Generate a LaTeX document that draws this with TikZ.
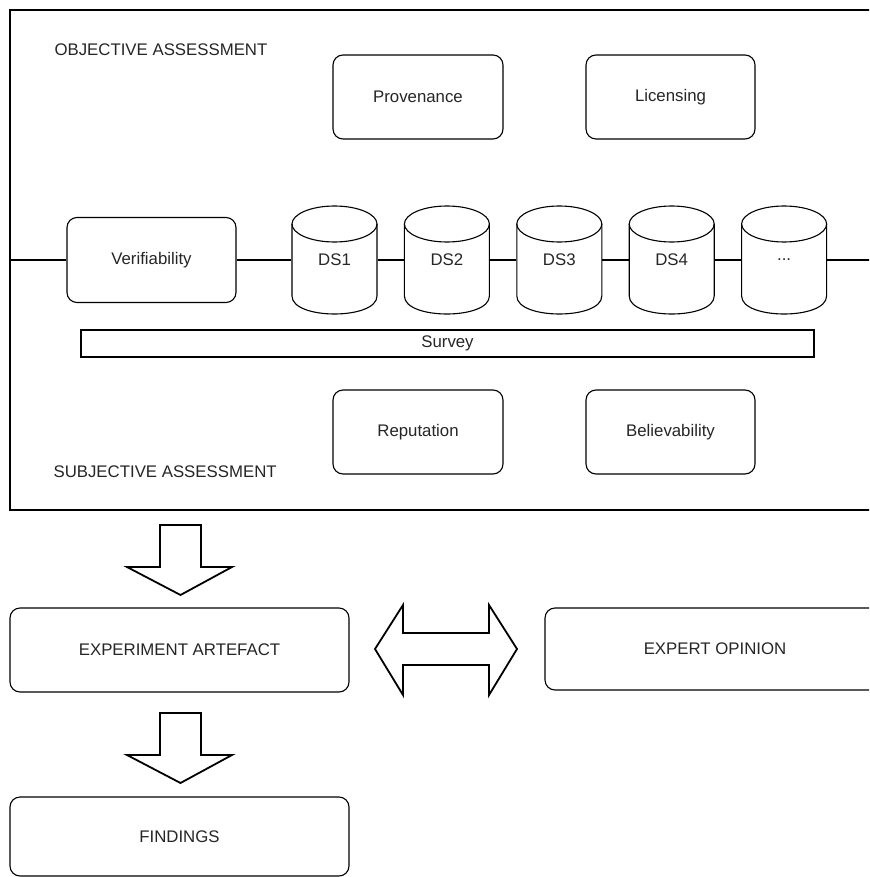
\documentclass[tikz,border=0pt]{standalone}
\usepackage{fontspec}
\setmainfont{Liberation Sans}
\newcommand\cylshape[2]{%
  \draw[fill=white] (#1,#2-36) ellipse [x radius=42.5, y radius=18];
  \draw (#1-42.5,#2-36) -- (#1-42.5,#2+36) .. controls (#1-42.5,#2+60) and (#1+42.5,#2+60) .. (#1+42.5,#2+36) -- (#1+42.5,#2-36);
}
\begin{document}
\begin{tikzpicture}[x=1pt,y=-1pt, line width=1.1pt,
  txt/.style={font=\fontsize{16.8}{20}\selectfont, text=black!85},
  rbox/.style={txt, draw, rounded corners=10pt, inner sep=0pt},
  lbl/.style={txt, anchor=west, inner sep=0pt},
  cylnode/.style={txt, inner sep=0pt, minimum width=85pt, minimum height=108pt},
  blockarrow/.style={draw, line width=1.8pt, fill=white, line join=miter}]
\useasboundingbox (0,0) rectangle (869,877);
\clip (0,0) rectangle (869,877);
\fill[white] (0,0) rectangle (869,877);
% outer frame (open on the right)
\draw (880,10) -- (10,10) -- (10,510) -- (880,510);
\node[lbl] (obj) at (54,50) {OBJECTIVE ASSESSMENT};
\node[lbl] (subj) at (53,472) {SUBJECTIVE ASSESSMENT};
% top boxes
\node[rbox, minimum width=170pt, minimum height=84pt] (prov) at (418,97) {Provenance};
\node[rbox, minimum width=169pt, minimum height=84pt] (lic) at (670.5,97) {Licensing};
% middle row
\node[rbox, minimum width=169pt, minimum height=85pt] (verif) at (151.5,260) {Verifiability};
\cylshape{334.5}{260}
\cylshape{446.9}{260}
\cylshape{559.3}{260}
\cylshape{671.7}{260}
\cylshape{784.1}{260}
\node[cylnode] (ds1) at (334.5,260) {DS1};
\node[cylnode] (ds2) at (446.9,260) {DS2};
\node[cylnode] (ds3) at (559.3,260) {DS3};
\node[cylnode] (ds4) at (671.7,260) {DS4};
\node[cylnode] (ds5) at (784.1,260) {...};
\coordinate (lft) at (10,260);
\coordinate (rgt) at (880,260);
\draw (lft) -- (verif.west);
\draw (verif.east) -- (ds1.west);
\draw (ds1.east) -- (ds2.west);
\draw (ds2.east) -- (ds3.west);
\draw (ds3.east) -- (ds4.west);
\draw (ds4.east) -- (ds5.west);
\draw (ds5.east) -- (rgt);
% survey
\node[txt, draw, inner sep=0pt, minimum width=733pt, minimum height=27pt] (survey) at (447.5,343.5) {Survey};
% bottom boxes
\node[rbox, minimum width=170pt, minimum height=84pt] (rep) at (418,432) {Reputation};
\node[rbox, minimum width=169pt, minimum height=84pt] (bel) at (670.5,432) {Believability};
% lower part
\node[rbox, minimum width=339pt, minimum height=84pt] (exp) at (179.5,650) {EXPERIMENT ARTEFACT};
\node[rbox, minimum width=340pt, minimum height=82pt] (opin) at (715,649) {EXPERT OPINION};
\node[rbox, minimum width=339pt, minimum height=79pt] (find) at (179.5,836.5) {FINDINGS};
% block arrows
\draw[blockarrow] (160,525) -- (201,525) -- (201,567) -- (232,567) -- (180.5,595) -- (127,567) -- (160,567) -- cycle;
\draw[blockarrow] (160,713) -- (201,713) -- (201,755) -- (232,755) -- (180.5,783) -- (127,755) -- (160,755) -- cycle;
\draw[blockarrow] (375,649) -- (403,605) -- (403,633) -- (489,633) -- (489,605) -- (517,649) -- (489,695) -- (489,665) -- (403,665) -- (403,695) -- cycle;
\end{tikzpicture}
\end{document}
